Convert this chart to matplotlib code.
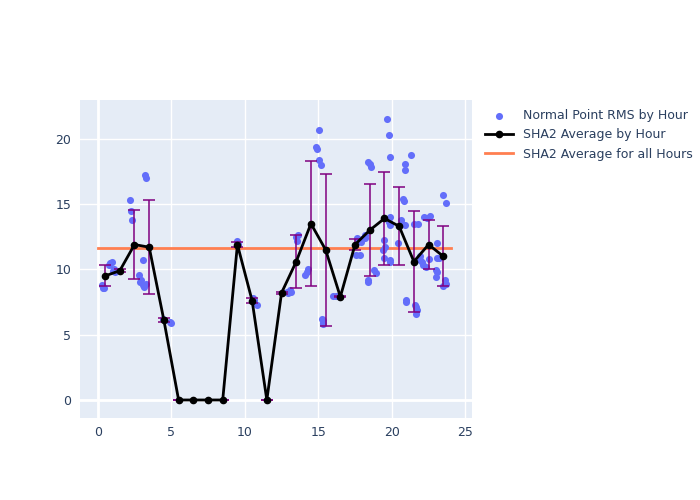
import matplotlib.pyplot as plt
import numpy as np

# normal point RMS, grouped by hour (x = fractional hour, y = RMS)
hour_x = [0.3, 0.35, 0.45, 0.75, 0.85, 0.95,
          1.05, 1.1, 1.2,
          2.17, 2.24, 2.3, 2.8, 2.9, 2.95,
          3.2, 3.25, 3.07, 3.05, 3.15, 3.3,
          4.45, 4.9, 5.0,
          9.5, 9.55,
          10.55, 10.65, 10.8, 10.6,
          12.9, 12.95, 13.0,
          13.5, 13.55, 13.6, 13.1, 13.15,
          14.1, 14.2, 14.3, 14.86, 14.9,
          15.02, 15.08, 15.2, 15.3, 15.35, 15.28, 15.32,
          16.0, 16.2, 16.4,
          17.55, 17.85, 17.95, 17.75, 17.65, 17.9,
          18.4, 18.5, 18.6, 18.35, 18.4, 18.8, 18.9, 18.15, 18.2,
          19.7, 19.84, 19.85, 19.85, 19.8, 19.85, 19.5, 19.52, 19.4, 19.85, 19.9, 19.45,
          20.9, 20.92, 20.75, 20.8, 20.6, 20.7, 20.9, 20.95, 20.98, 20.45,
          21.3, 21.5, 21.75, 21.55, 21.65, 21.7, 21.65, 21.9, 21.95,
          22.2, 22.4, 22.6, 22.1, 22.3, 22.05, 22.5,
          23.5, 23.7, 23.1, 23.2, 23.0, 23.1, 22.98, 23.6, 23.7, 23.5, 23.07]
hour_rms = [8.8, 8.6, 8.6, 10.3, 10.5, 10.6,
            9.9, 10.0, 9.8,
            15.3, 14.5, 13.8, 9.6, 9.0, 9.2,
            17.2, 17.0, 10.7, 8.8, 8.65, 8.9,
            6.2, 6.0, 5.9,
            12.2, 11.95,
            7.8, 7.5, 7.3, 7.65,
            8.3, 8.2, 8.3,
            12.5, 12.2, 12.6, 8.4, 8.3,
            9.6, 9.8, 10.0, 19.4, 19.2,
            20.7, 18.4, 18.0, 6.1, 5.9, 6.2, 5.8,
            7.95, 7.95, 7.95,
            11.1, 11.1, 12.3, 12.2, 12.4, 12.1,
            18.25, 18.1, 17.85, 9.2, 9.05, 9.95, 9.7, 12.4, 12.6,
            21.5, 20.3, 18.6, 14.0, 13.65, 13.4, 12.25, 11.75, 11.5, 10.7, 10.6, 10.9,
            18.1, 17.6, 15.4, 15.2, 13.8, 13.5, 13.4, 7.5, 7.65, 12.0,
            18.75, 13.5, 13.5, 7.3, 7.15, 6.9, 6.6, 11.0, 10.7,
            14.0, 13.9, 14.1, 10.3, 10.2, 10.6, 10.8,
            15.7, 15.05, 10.85, 10.85, 9.95, 9.8, 9.45, 9.2, 8.9, 8.7, 12.0]

# SHA2 average and spread per hour
avg_x = np.arange(24) + 0.5
avg_y = [9.5, 9.9, 11.9, 11.7, 6.1, 0, 0, 0, 0, 11.9, 7.6, 0,
         8.2, 10.6, 13.5, 11.5, 7.9, 11.9, 13.0, 13.9, 13.3, 10.6, 11.9, 11.0]
avg_err = [0.8, 0.1, 2.65, 3.6, 0.15, 0, 0, 0, 0, 0.2, 0.2, 0,
           0.05, 2.05, 4.8, 5.8, 0.05, 0.4, 3.5, 3.55, 3.0, 3.85, 1.85, 2.3]
overall_avg = 11.6
overall_x = [0, 24]

fig = plt.figure(figsize=(7, 5), dpi=100)
ax = fig.add_axes([0.114, 0.164, 0.56, 0.636])
ax.set_facecolor('#E5ECF6')

ax.scatter(hour_x, hour_rms, s=26, color='#636EFA', zorder=3, linewidths=0, label='Normal Point RMS by Hour')
ax.errorbar(avg_x, avg_y, yerr=avg_err, fmt='none', ecolor='purple', elinewidth=1.1, capsize=4, capthick=1.1, zorder=4)
ax.plot(avg_x, avg_y, 'k-', marker='o', markersize=4.5, linewidth=2, zorder=5, label='SHA2 Average by Hour')
ax.plot(overall_x, [overall_avg, overall_avg], color='#FF7F50', linewidth=2, zorder=2, label='SHA2 Average for all Hours')

ax.set_xlim(-1.22, 25.44)
ax.set_ylim(-1.38, 22.97)
ax.set_xticks([0, 5, 10, 15, 20, 25])
ax.set_yticks([0, 5, 10, 15, 20])
ax.grid(True, color='white', linewidth=1, zorder=0)
ax.set_axisbelow(True)
ax.axhline(0, color='white', linewidth=2, zorder=1)
ax.axvline(0, color='white', linewidth=2, zorder=1)
for s in ax.spines.values():
    s.set_visible(False)
ax.tick_params(length=0, labelsize=9, labelcolor='#2a3f5f', pad=6)

leg = ax.legend(loc='upper left', bbox_to_anchor=(1.02, 0.987), frameon=False, fontsize=9,
                labelcolor='#2a3f5f', handlelength=2.3, borderaxespad=0)

plt.savefig('out.png', dpi=100)
